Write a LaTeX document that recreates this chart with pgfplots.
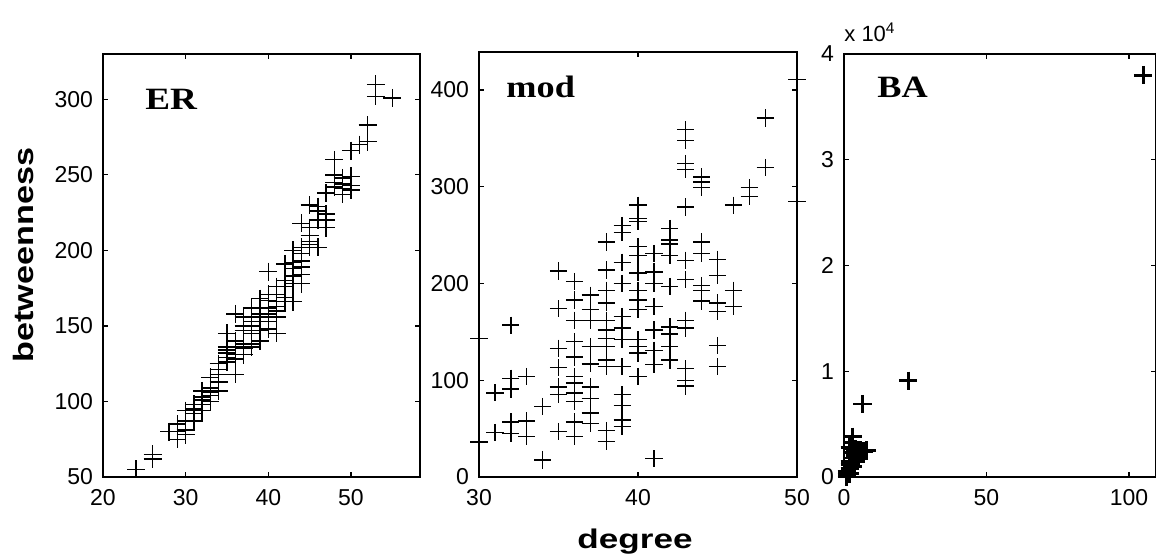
\documentclass[border=0pt]{standalone}
\usepackage{fontspec}
\setmainfont{Liberation Sans}
\newfontfamily\serifb{Liberation Serif}
\usepackage{pgfplots}
\pgfplotsset{compat=1.18}
\usepackage{graphicx}

\pgfplotstableread{
x y
24 55
26 62
26 65
28 80
29 80
29 75
29 85
30 94
30 87
30 81
30 78
31 98
31 92
31 87
31 95
32 107
32 103
32 98
32 94
32 101
33 116
33 109
33 104
33 100
33 106
34 125
34 118
34 113
34 107
34 121
35 145
35 136
35 132
35 129
35 126
35 134
36 158
36 140
36 136
36 131
36 118
36 128
37 156
37 147
37 138
37 135
37 131
37 150
38 162
38 156
38 150
38 145
38 138
38 136
38 153
39 168
39 162
39 156
39 147
39 140
39 158
40 186
40 171
40 167
40 162
40 158
40 153
40 148
41 176
41 171
41 166
41 160
41 156
41 145
41 163
42 191
42 180
42 176
42 169
42 166
43 200
43 192
43 183
43 178
43 166
43 188
44 218
44 202
44 198
44 193
44 189
44 184
44 178
45 230
45 215
45 206
45 204
45 202
45 210
46 229
46 226
46 220
46 202
47 224
47 220
47 215
47 238
48 260
48 250
48 245
48 242
49 248
49 244
49 241
49 237
50 249
50 243
50 240
50 266
51 270
52 272
52 283
53 310
53 302
55 301
}\ERdata

\pgfplotstableread{
x y
30 143
30 36
31 87
31 46
32 157
32 102
32 91
32 57
32 45
33 104
33 58
33 42
34 73
34 17
34 18
35 213
35 174
35 133
35 113
35 93
35 85
35 47
36 202
36 183
36 162
36 140
36 124
36 104
36 97
36 87
36 78
36 57
36 42
37 188
37 173
37 162
37 135
37 117
37 93
37 81
37 66
37 55
38 243
38 214
38 193
38 180
38 162
38 152
38 143
38 135
38 121
38 114
38 48
38 37
39 260
39 253
39 222
39 200
39 166
39 154
39 142
39 114
39 85
39 74
39 59
39 52
40 281
40 267
40 264
40 238
40 229
40 211
40 193
40 183
40 173
40 142
40 135
40 128
40 104
41 231
41 212
41 200
41 176
41 152
41 131
41 116
41 19
42 257
42 245
42 241
42 229
42 197
42 155
42 148
42 135
42 121
43 359
43 348
43 324
43 318
43 279
43 224
43 204
43 162
43 154
43 112
43 100
43 94
44 310
44 305
44 299
44 243
44 231
44 198
44 193
44 182
45 225
45 208
45 180
45 171
45 136
45 114
46 281
46 193
46 176
47 299
47 290
48 371
48 320
50 411
50 285
}\MODdata

\pgfplotstableread{
x y
1 0
1 200
1 500
2 300
2 800
2 1200
2 1500
2 2800
3 1000
3 1800
3 2300
3 2700
3 3300
3 3800
4 1500
4 2000
4 2600
5 1800
5 2300
6 2400
7 2400
8 2500
6.5 6900
22.5 9100
105 38000
}\BAdata

\pgfplotsset{mystyle/.style={
  scale only axis,
  anchor=south west,
  axis line style={line width=0.7pt},
  tick style={line width=0.6pt, black},
  major tick length=2.5pt,
  tick align=inside,
  clip=false,
  /pgf/number format/assume math mode=true,
  ticklabel style={font=\fontsize{11.5}{12}\selectfont},
  yticklabel style={xshift=-1.5pt},
  xticklabel style={yshift=-2.5pt},
}}

\begin{document}
\begin{tikzpicture}
\useasboundingbox (0,0) rectangle (578pt,279pt);

% ER
\begin{axis}[mystyle, at={(51.5pt,40.5pt)}, width=158.5pt, height=211.5pt,
  xmin=20, xmax=58.35, ymin=50, ymax=330,
  xtick={20,30,40,50}, ytick={50,100,150,200,250,300}]
\addplot[only marks, mark=+, mark size=4.5pt, line width=0.7pt] table[x=x,y=y] {\ERdata};
\node[anchor=base west, inner sep=0pt] at (rel axis cs:0.1325,0.868)
  {\fontsize{15.5}{17}\selectfont\serifb\bfseries\scalebox{1.2}[1]{ER}};
\end{axis}

% mod
\begin{axis}[mystyle, at={(239.5pt,40.5pt)}, width=159pt, height=212.5pt,
  xmin=30, xmax=50, ymin=0, ymax=439.3,
  xtick={30,40,50}, ytick={0,100,200,300,400}]
\addplot[only marks, mark=+, mark size=4.3pt, line width=0.7pt] table[x=x,y=y] {\MODdata};
\node[anchor=base west, inner sep=0pt] at (rel axis cs:0.085,0.892)
  {\fontsize{15.5}{17}\selectfont\serifb\bfseries\scalebox{1.17}[1]{mod}};
\end{axis}

% BA
\begin{axis}[mystyle, at={(422pt,40.5pt)}, width=156pt, height=211.5pt,
  xmin=0, xmax=109.5, ymin=0, ymax=40000,
  xtick={0,50,100}, ytick={0,10000,20000,30000,40000},
  scaled y ticks=base 10:-4,
  ytick scale label code/.code={},
  yticklabel style={/pgf/number format/fixed}]
\addplot[only marks, mark=+, mark size=4.6pt, line width=1.4pt] table[x=x,y=y] {\BAdata};
\node[anchor=base west, inner sep=0pt] at (rel axis cs:0.106,0.896)
  {\fontsize{15.5}{17}\selectfont\serifb\bfseries\scalebox{1.17}[1]{BA}};
\end{axis}

\node[anchor=base west, inner sep=0pt] at (422pt,258.25pt)
  {\fontsize{11}{12}\selectfont x 10\textsuperscript{4}};

\node[anchor=base, inner sep=0pt] at (317.5pt,5pt)
  {\fontsize{13.5}{15}\selectfont\bfseries\scalebox{1.3}[1]{degree}};

\node[anchor=base, rotate=90, inner sep=0pt] at (16.5pt,151.5pt)
  {\fontsize{14}{16}\selectfont\bfseries\scalebox{1.22}[1]{betweenness}};
\end{tikzpicture}
\end{document}
